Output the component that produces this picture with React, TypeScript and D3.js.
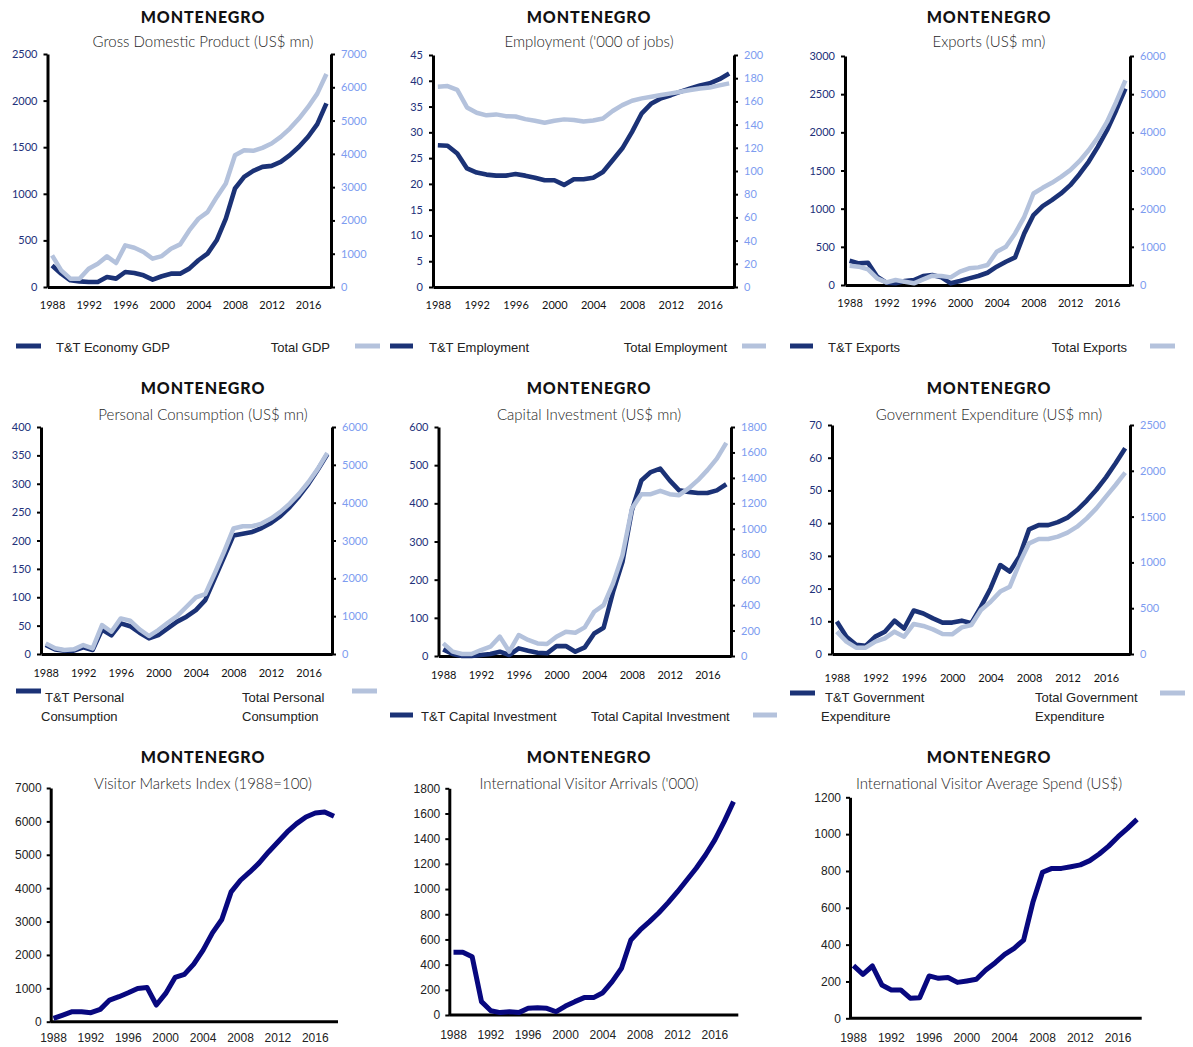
import React, { useEffect, useRef } from 'react';
import * as d3 from 'd3';

// Years on every chart
const years = [1988, 1989, 1990, 1991, 1992, 1993, 1994, 1995, 1996, 1997, 1998, 1999, 2000, 2001, 2002, 2003, 2004, 2005, 2006, 2007, 2008, 2009, 2010, 2011, 2012, 2013, 2014, 2015, 2016, 2017, 2018];
const yearTicks = [1988, 1992, 1996, 2000, 2004, 2008, 2012, 2016];

// T&T series (left axis) and totals (right axis)
const gdpTT = [230, 143, 72, 60, 54, 54, 107, 90, 161, 150, 125, 79, 115, 143, 143, 197, 287, 358, 501, 734, 1057, 1182, 1246, 1289, 1300, 1343, 1415, 1504, 1612, 1748, 1970];
const gdpTotal = [950, 500, 250, 250, 550, 700, 920, 720, 1250, 1180, 1050, 850, 930, 1150, 1280, 1700, 2050, 2250, 2700, 3110, 3960, 4110, 4090, 4180, 4310, 4510, 4760, 5060, 5410, 5810, 6400];

const empTT = [27.5, 27.4, 25.9, 23.0, 22.2, 21.8, 21.6, 21.6, 21.9, 21.6, 21.2, 20.7, 20.7, 19.8, 20.9, 20.9, 21.2, 22.3, 24.6, 26.9, 30.1, 33.7, 35.6, 36.6, 37.2, 37.9, 38.5, 39.1, 39.5, 40.3, 41.4];
const empTotal = [172.7, 173.2, 170, 154.8, 150.2, 148, 148.8, 147.3, 147, 144.7, 143.3, 141.6, 143.3, 144.5, 143.9, 142.7, 143.6, 145.3, 151.7, 156.8, 160.6, 162.6, 164, 165.5, 166.9, 168.3, 169.8, 171.2, 172, 173.8, 175.5];

const expTT = [318, 283, 292, 109, 31, 22, 52, 65, 118, 131, 100, 22, 52, 87, 118, 161, 240, 305, 362, 676, 916, 1034, 1112, 1199, 1308, 1452, 1614, 1810, 2028, 2290, 2573];
const expTotal = [506, 480, 410, 174, 70, 131, 87, 44, 148, 244, 235, 200, 349, 436, 462, 523, 872, 1003, 1351, 1787, 2398, 2546, 2677, 2834, 3008, 3243, 3531, 3862, 4272, 4795, 5362];

const consTT = [15.8, 8.2, 5.9, 5.9, 11.7, 7, 43, 33, 54, 49, 37.5, 27.6, 33.4, 45, 57, 65.7, 77.4, 95, 133, 171, 209, 212, 215, 222, 231, 243, 259, 278, 300, 325, 352];
const consTotal = [281, 150, 106, 123, 237, 150, 765, 589, 941, 880, 651, 475, 633, 827, 1003, 1249, 1495, 1583, 2128, 2700, 3316, 3377, 3377, 3448, 3580, 3756, 3976, 4240, 4547, 4899, 5312];

const capTT = [17.4, 5.2, 0, 0, 2.6, 5.2, 11.3, 2.6, 20, 14, 8.7, 7, 26, 26, 11.3, 22.7, 59, 74, 168, 247, 382, 460, 482, 491, 460, 434, 430, 427, 427, 434, 450];
const capTotal = [99, 34, 16, 16, 47, 73, 152, 34, 165, 126, 99, 94, 152, 191, 183, 225, 348, 400, 571, 793, 1160, 1272, 1272, 1298, 1272, 1264, 1317, 1382, 1461, 1552, 1675];

const govTT = [9.9, 5.3, 2.8, 2.5, 5.3, 6.8, 10.2, 7.8, 13.3, 12.4, 10.9, 9.6, 9.6, 10.2, 9.4, 14.5, 20.1, 27.2, 25.2, 29.8, 38.1, 39.4, 39.4, 40.3, 41.7, 44, 46.9, 50.2, 54, 58.3, 62.9];
const govTotal = [244, 135, 69, 69, 135, 171, 244, 189, 328, 306, 269, 218, 215, 291, 317, 480, 571, 681, 735, 990, 1208, 1255, 1255, 1281, 1325, 1390, 1481, 1590, 1718, 1845, 1980];

// Single series charts
const visitorIndex = [100, 200, 299, 299, 269, 369, 648, 748, 867, 997, 1027, 499, 848, 1326, 1416, 1725, 2143, 2662, 3061, 3888, 4237, 4486, 4756, 5085, 5384, 5683, 5932, 6132, 6251, 6281, 6151];
const arrivals = [498, 498, 463, 106, 34, 19, 26, 19, 53, 58, 53, 26, 71, 106, 138, 138, 177, 265, 371, 596, 675, 741, 812, 892, 979, 1072, 1165, 1270, 1390, 1535, 1694];
const avgSpend = [286, 239, 284, 181, 154, 154, 109, 112, 230, 217, 222, 195, 203, 212, 262, 302, 347, 380, 425, 633, 793, 814, 814, 823, 833, 856, 892, 935, 986, 1031, 1080];

const DARK = '#1b3276';
const LIGHT = '#b4c2dc';
const NAVY = '#08087f';
const LEFT_TXT = '#22317a';
const RIGHT_TXT = '#7d9cf0';
const GILL = 'Lato, "Open Sans", sans-serif';
const ARIAL = '"Liberation Sans", Arial, sans-serif';

interface DualPanel {
  sub: string;
  cx: number; titleY: number; subY: number;
  left: number; right: number; top: number; bottom: number; labelY: number;
  yMax: number; yStep: number; y2Max: number; y2Step: number;
  tt: number[]; total: number[];
  ttLabel: string[]; totalLabel: string[];
  legend: { dSw: [number, number, number]; dTxt: [number, number]; lSw: [number, number, number]; lTxt: [number, number]; lAnchor: string; lineGap: number };
}

interface SinglePanel {
  sub: string;
  cx: number; titleY: number; subY: number;
  left: number; right: number; top: number; bottom: number; labelY: number;
  x0: number; x1: number; yMax: number; yStep: number;
  values: number[];
}

const dualPanels: DualPanel[] = [
  {
    sub: 'Gross Domestic Product (US$ mn)', cx: 203, titleY: 17, subY: 42,
    left: 47.5, right: 331, top: 54, bottom: 287, labelY: 305,
    yMax: 2500, yStep: 500, y2Max: 7000, y2Step: 1000, tt: gdpTT, total: gdpTotal,
    ttLabel: ['T&T Economy GDP'], totalLabel: ['Total GDP'],
    legend: { dSw: [16, 41, 346], dTxt: [56, 347], lSw: [355, 380, 346], lTxt: [330, 347], lAnchor: 'end', lineGap: 0 },
  },
  {
    sub: "Employment ('000 of jobs)", cx: 589, titleY: 17, subY: 42,
    left: 433, right: 734, top: 55, bottom: 287, labelY: 305,
    yMax: 45, yStep: 5, y2Max: 200, y2Step: 20, tt: empTT, total: empTotal,
    ttLabel: ['T&T Employment'], totalLabel: ['Total Employment'],
    legend: { dSw: [390, 413, 346], dTxt: [429, 347], lSw: [742, 766, 346], lTxt: [727, 347], lAnchor: 'end', lineGap: 0 },
  },
  {
    sub: 'Exports (US$ mn)', cx: 989, titleY: 17, subY: 42,
    left: 845, right: 1130, top: 56, bottom: 285, labelY: 303,
    yMax: 3000, yStep: 500, y2Max: 6000, y2Step: 1000, tt: expTT, total: expTotal,
    ttLabel: ['T&T Exports'], totalLabel: ['Total Exports'],
    legend: { dSw: [790, 813, 346], dTxt: [828, 347], lSw: [1150, 1175, 346], lTxt: [1127, 347], lAnchor: 'end', lineGap: 0 },
  },
  {
    sub: 'Personal Consumption (US$ mn)', cx: 203, titleY: 388, subY: 415,
    left: 41, right: 332, top: 427, bottom: 654, labelY: 673,
    yMax: 400, yStep: 50, y2Max: 6000, y2Step: 1000, tt: consTT, total: consTotal,
    ttLabel: ['T&T Personal', 'Consumption'], totalLabel: ['Total Personal', 'Consumption'],
    legend: { dSw: [16, 41, 691], dTxt: [45, 697], lSw: [352, 377, 691], lTxt: [242, 697], lAnchor: 'start', lineGap: 19 },
  },
  {
    sub: 'Capital Investment (US$ mn)', cx: 589, titleY: 388, subY: 415,
    left: 438.5, right: 731, top: 427, bottom: 656, labelY: 675,
    yMax: 600, yStep: 100, y2Max: 1800, y2Step: 200, tt: capTT, total: capTotal,
    ttLabel: ['T&T Capital Investment'], totalLabel: ['Total Capital Investment'],
    legend: { dSw: [390, 413, 715], dTxt: [421, 716], lSw: [753, 777, 715], lTxt: [591, 716], lAnchor: 'start', lineGap: 0 },
  },
  {
    sub: 'Government Expenditure (US$ mn)', cx: 989, titleY: 388, subY: 415,
    left: 832, right: 1130, top: 425, bottom: 654, labelY: 678,
    yMax: 70, yStep: 10, y2Max: 2500, y2Step: 500, tt: govTT, total: govTotal,
    ttLabel: ['T&T Government', 'Expenditure'], totalLabel: ['Total Government', 'Expenditure'],
    legend: { dSw: [790, 815, 693], dTxt: [825, 697], lSw: [1160, 1185, 693], lTxt: [1035, 697], lAnchor: 'start', lineGap: 19 },
  },
];

const singlePanels: SinglePanel[] = [
  {
    sub: 'Visitor Markets Index (1988=100)', cx: 203, titleY: 757, subY: 784,
    left: 50.7, right: 338, top: 788, bottom: 1021.7, labelY: 1038,
    x0: 53.5, x1: 334, yMax: 7000, yStep: 1000, values: visitorIndex,
  },
  {
    sub: "International Visitor Arrivals ('000)", cx: 589, titleY: 757, subY: 784,
    left: 449.3, right: 738.3, top: 788.3, bottom: 1015, labelY: 1035,
    x0: 453.5, x1: 733.5, yMax: 1800, yStep: 200, values: arrivals,
  },
  {
    sub: 'International Visitor Average Spend (US$)', cx: 989, titleY: 757, subY: 784,
    left: 850, right: 1141.7, top: 797.3, bottom: 1018.3, labelY: 1038,
    x0: 853.5, x1: 1137, yMax: 1200, yStep: 200, values: avgSpend,
  },
];

const ticksFor = (max: number, step: number) => d3.range(0, max + step / 2, step);

export default function App() {
  const svgRef = useRef<SVGSVGElement>(null);

  useEffect(() => {
    if (!svgRef.current) return;
    const svg = d3.select(svgRef.current);
    svg.selectAll('*').remove();

    const heading = (cx: number, titleY: number, subY: number, sub: string) => {
      svg.append('text')
        .attr('x', cx).attr('y', titleY).attr('dy', '0.35em')
        .attr('text-anchor', 'middle')
        .attr('font-family', GILL).attr('font-weight', 900).attr('font-size', 16)
        .attr('letter-spacing', 0.9)
        .attr('fill', '#111')
        .text('MONTENEGRO');
      svg.append('text')
        .attr('x', cx).attr('y', subY).attr('dy', '0.35em')
        .attr('text-anchor', 'middle')
        .attr('font-family', GILL).attr('font-weight', 300).attr('font-size', 15)
        .attr('fill', '#1e1e1e')
        .text(sub);
    };

    const styleAxis = (g: d3.Selection<SVGGElement, unknown, null, undefined>, color: string, family: string, size: number) => {
      g.select('.domain').attr('stroke', '#000').attr('stroke-width', 3);
      g.selectAll('.tick line').attr('stroke', '#000').attr('stroke-width', 2);
      g.selectAll('.tick text').attr('fill', color).attr('font-family', family).attr('font-size', size);
    };

    // Dual axis panels
    dualPanels.forEach((p) => {
      heading(p.cx, p.titleY, p.subY, p.sub);

      const x = d3.scaleLinear().domain([1987.5, 2018.5]).range([p.left, p.right]);
      const y = d3.scaleLinear().domain([0, p.yMax]).range([p.bottom, p.top]);
      const y2 = d3.scaleLinear().domain([0, p.y2Max]).range([p.bottom, p.top]);

      const gl = svg.append('g').attr('transform', `translate(${p.left},0)`)
        .call(d3.axisLeft(y).tickValues(ticksFor(p.yMax, p.yStep)).tickSize(4).tickSizeOuter(0).tickPadding(6).tickFormat(d3.format('d')));
      styleAxis(gl, LEFT_TXT, GILL, 11);

      const gr = svg.append('g').attr('transform', `translate(${p.right},0)`)
        .call(d3.axisRight(y2).tickValues(ticksFor(p.y2Max, p.y2Step)).tickSize(4).tickSizeOuter(0).tickPadding(6).tickFormat(d3.format('d')));
      styleAxis(gr, RIGHT_TXT, GILL, 11);

      const gb = svg.append('g').attr('transform', `translate(0,${p.bottom})`)
        .call(d3.axisBottom(x).tickValues(yearTicks).tickSize(0).tickSizeOuter(0).tickFormat(d3.format('d')));
      styleAxis(gb, '#111', GILL, 11);
      gb.selectAll('.tick text').attr('y', p.labelY - p.bottom).attr('dy', '0.35em');

      const ttLine = d3.line<number>().x((_, i) => x(years[i])).y((d) => y(d));
      const totLine = d3.line<number>().x((_, i) => x(years[i])).y((d) => y2(d));

      svg.append('path').datum(p.tt)
        .attr('d', ttLine).attr('fill', 'none')
        .attr('stroke', DARK).attr('stroke-width', 4.6).attr('stroke-linejoin', 'round');
      svg.append('path').datum(p.total)
        .attr('d', totLine).attr('fill', 'none')
        .attr('stroke', LIGHT).attr('stroke-width', 4.5).attr('stroke-linejoin', 'round');

      // legend
      const lg = p.legend;
      svg.append('line').attr('x1', lg.dSw[0]).attr('x2', lg.dSw[1]).attr('y1', lg.dSw[2]).attr('y2', lg.dSw[2])
        .attr('stroke', DARK).attr('stroke-width', 5);
      svg.append('line').attr('x1', lg.lSw[0]).attr('x2', lg.lSw[1]).attr('y1', lg.lSw[2]).attr('y2', lg.lSw[2])
        .attr('stroke', LIGHT).attr('stroke-width', 5);
      p.ttLabel.forEach((t, i) => {
        svg.append('text')
          .attr('x', lg.dTxt[0] - (i > 0 ? 4 : 0)).attr('y', lg.dTxt[1] + i * lg.lineGap).attr('dy', '0.35em')
          .attr('font-family', ARIAL).attr('font-size', 13).attr('fill', '#222')
          .text(t);
      });
      p.totalLabel.forEach((t, i) => {
        svg.append('text')
          .attr('x', lg.lTxt[0]).attr('y', lg.lTxt[1] + i * lg.lineGap).attr('dy', '0.35em')
          .attr('text-anchor', lg.lAnchor)
          .attr('font-family', ARIAL).attr('font-size', 13).attr('fill', '#222')
          .text(t);
      });
    });

    // Single series panels
    singlePanels.forEach((p) => {
      heading(p.cx, p.titleY, p.subY, p.sub);

      const x = d3.scaleLinear().domain([1988, 2018]).range([p.x0, p.x1]);
      const y = d3.scaleLinear().domain([0, p.yMax]).range([p.bottom, p.top]);

      const gl = svg.append('g').attr('transform', `translate(${p.left},0)`)
        .call(d3.axisLeft(y).tickValues(ticksFor(p.yMax, p.yStep)).tickSize(4).tickSizeOuter(0).tickPadding(5).tickFormat(d3.format('d')));
      styleAxis(gl, '#222', ARIAL, 12);

      svg.append('line')
        .attr('x1', p.left).attr('x2', p.right).attr('y1', p.bottom).attr('y2', p.bottom)
        .attr('stroke', '#000').attr('stroke-width', 3);

      yearTicks.forEach((yr) => {
        svg.append('text')
          .attr('x', x(yr)).attr('y', p.labelY).attr('dy', '0.35em')
          .attr('text-anchor', 'middle')
          .attr('font-family', ARIAL).attr('font-size', 12).attr('fill', '#222')
          .text(yr);
      });

      const line = d3.line<number>().x((_, i) => x(years[i])).y((d) => y(d));
      svg.append('path').datum(p.values)
        .attr('d', line).attr('fill', 'none')
        .attr('stroke', NAVY).attr('stroke-width', 5).attr('stroke-linejoin', 'round');
    });
  }, []);

  return (
    <div style={{ position: 'absolute', left: 0, top: 0, background: '#fff' }}>
      <svg ref={svgRef} width={1193} height={1047} style={{ display: 'block' }} />
    </div>
  );
}
